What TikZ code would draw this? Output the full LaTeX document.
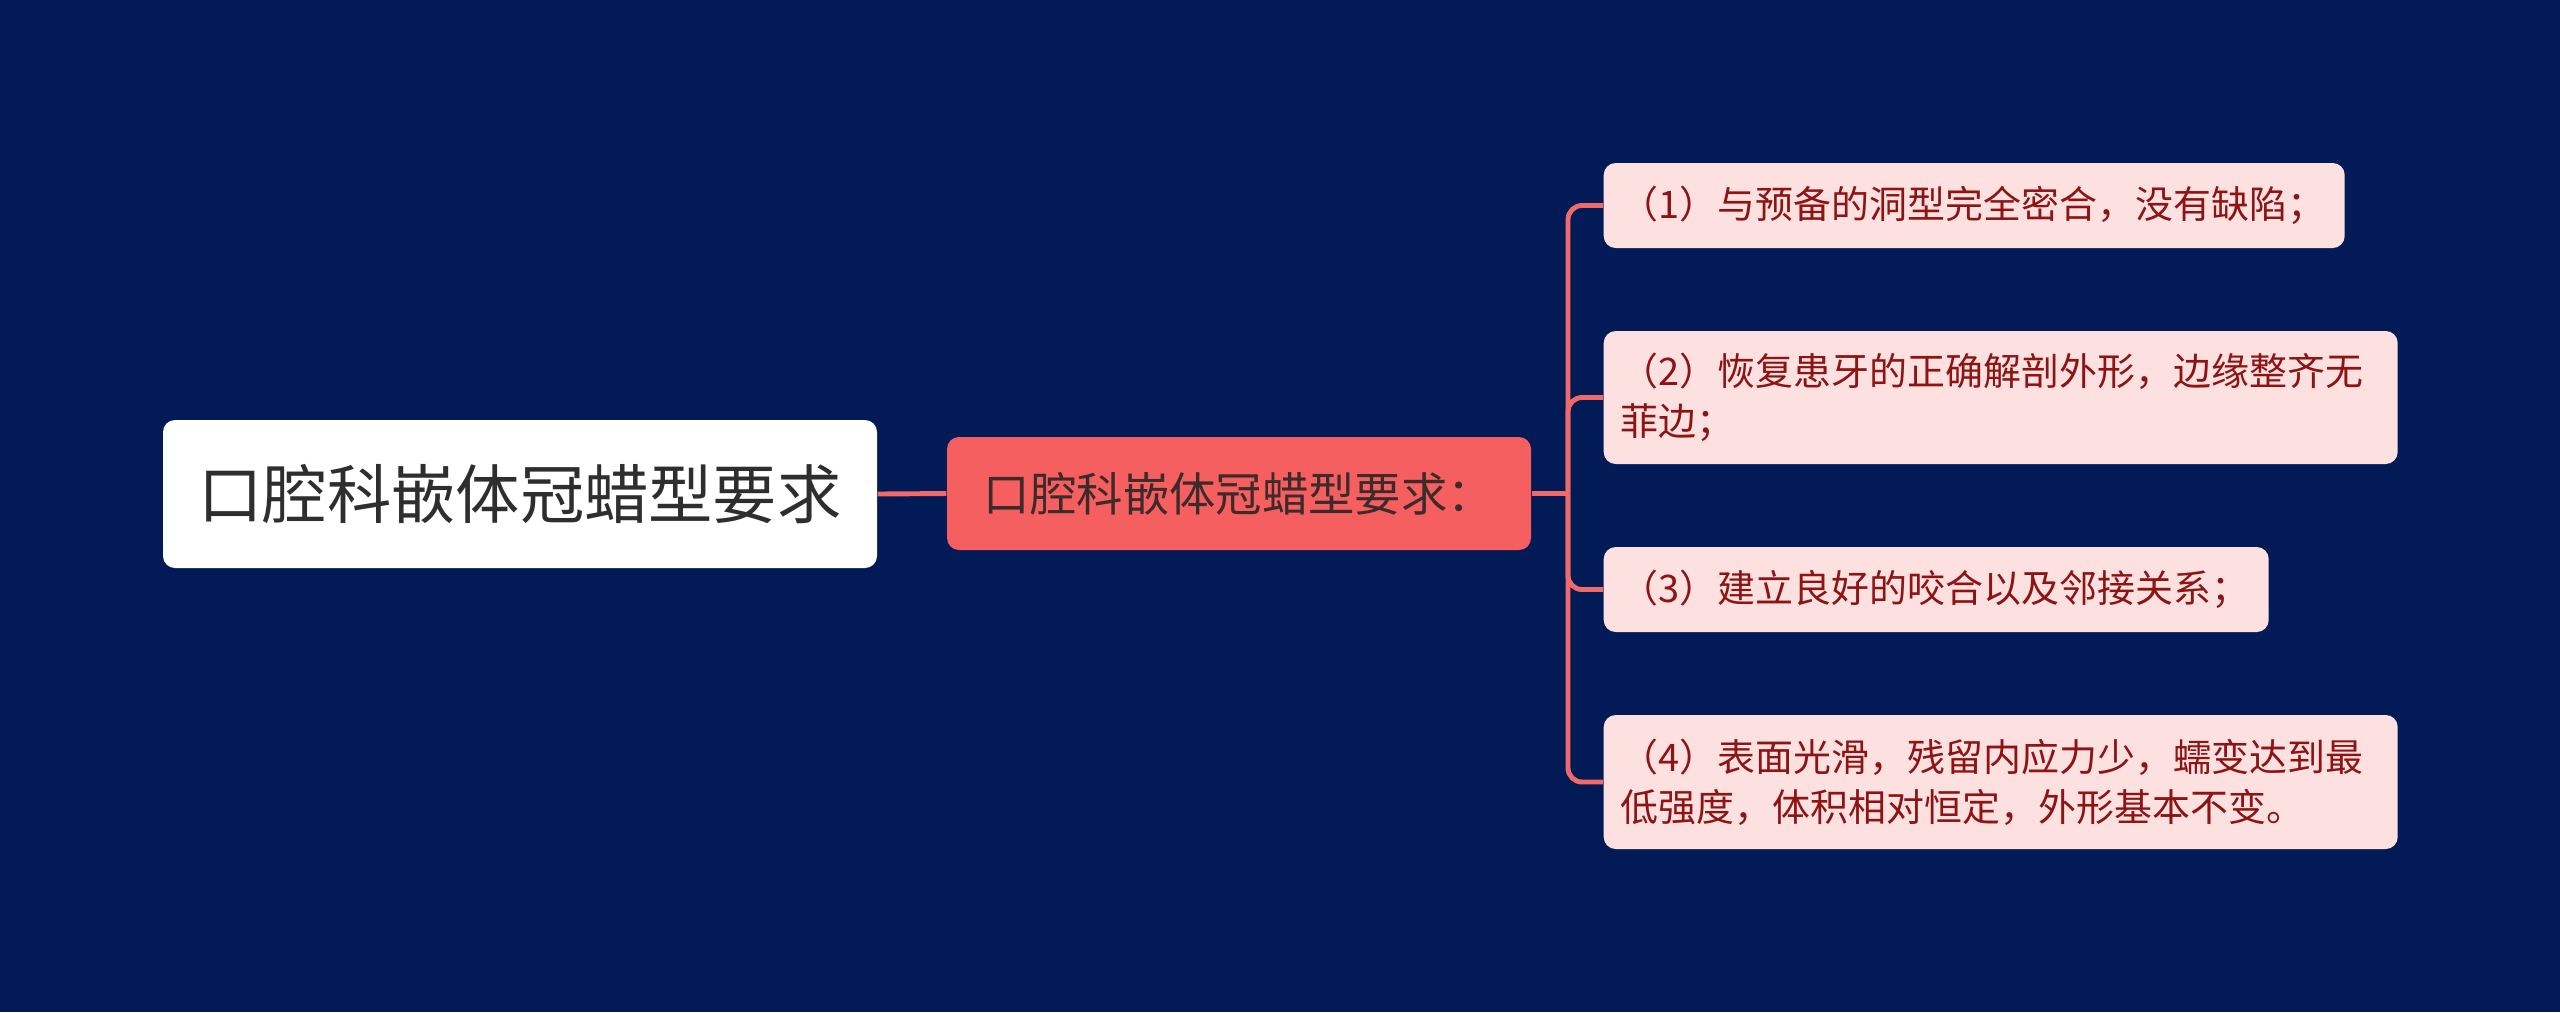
\documentclass[tikz,border=0pt]{standalone}
\usepackage{fontspec}
\setmainfont{Noto Sans CJK SC}
\definecolor{mapNavy}{HTML}{021B57}
\definecolor{mapCoral}{HTML}{F55F5F}
\definecolor{mapLine}{HTML}{F06A6A}
\definecolor{mapPink}{HTML}{FDE1E1}
\definecolor{mapDarkRed}{HTML}{8E1414}
\definecolor{mapRootText}{HTML}{2E2E2E}
\definecolor{mapMainText}{HTML}{3D2A2A}

\begin{document}
\begin{tikzpicture}[
    rootbox/.style={fill=white, rounded corners=0.12cm, inner sep=0pt, text=mapRootText,
      minimum width=7.14cm, minimum height=1.48cm, font=\fontsize{18.3}{22}\selectfont},
    mainbox/.style={fill=mapCoral, rounded corners=0.12cm, inner sep=0pt, text=mapMainText,
      minimum width=5.84cm, minimum height=1.13cm, font=\fontsize{13.2}{16}\selectfont},
    leafbox/.style={fill=mapPink, rounded corners=0.12cm, anchor=west, text=mapDarkRed,
      inner xsep=0.17cm, inner ysep=0pt, align=left, font=\fontsize{10.8}{14.2}\selectfont},
    link/.style={draw=mapLine, line width=1.4pt}
  ]
  \fill[mapNavy] (0,0) rectangle (25.6,-10.12);
  \useasboundingbox (0,0) rectangle (25.6,-10.12);

  \node[rootbox] (root) at (5.20,-4.94) {口腔科嵌体冠蜡型要求};
  \node[mainbox] (main) at (12.39,-4.935) {口腔科嵌体冠蜡型要求：};

  \node[leafbox, text width=7.07cm, minimum height=0.85cm] (c1) at (16.03,-2.055)
    {（1）与预备的洞型完全密合，没有缺陷；};
  \node[leafbox, text width=7.60cm, minimum height=1.33cm] (c2) at (16.03,-3.975)
    {（2）恢复患牙的正确解剖外形，边缘整齐无\\菲边；};
  \node[leafbox, text width=6.31cm, minimum height=0.85cm] (c3) at (16.03,-5.895)
    {（3）建立良好的咬合以及邻接关系；};
  \node[leafbox, text width=7.60cm, minimum height=1.34cm] (c4) at (16.03,-7.82)
    {（4）表面光滑，残留内应力少，蠕变达到最\\低强度，体积相对恒定，外形基本不变。};

  \coordinate (fork) at (15.68,-4.935);
  \draw[link] (root.east) -- (main.west);
  \draw[link] (main.east) -- (fork);
  \foreach \leaf in {c1,c2,c3,c4}
    \draw[link, rounded corners=0.14cm] (fork) |- (\leaf.west);
\end{tikzpicture}
\end{document}
